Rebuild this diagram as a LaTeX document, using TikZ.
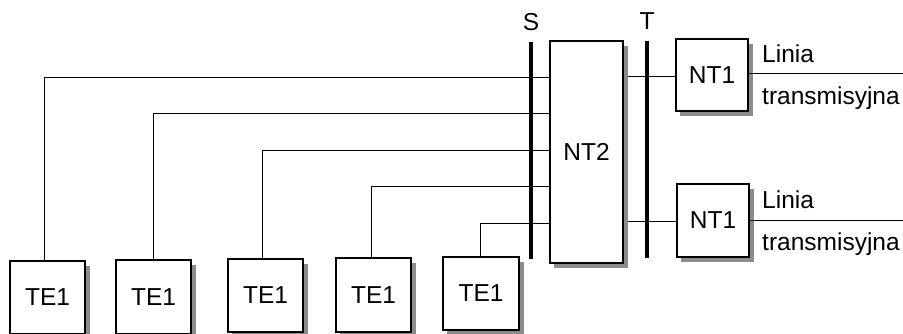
\documentclass[tikz,border=0pt]{standalone}
\usepackage{fontspec}
\setmainfont{Liberation Sans}
\begin{document}
\begin{tikzpicture}[x=1pt,y=-1pt,
  box/.style={draw,line width=1.2pt,fill=white,inner sep=0pt,
    font=\fontsize{24.5}{28}\selectfont},
  shade/.style={fill=black!45,draw=none},
  wire/.style={line width=1pt},
  bar/.style={line width=3.6pt},
  lbl/.style={font=\fontsize{24.5}{28}\selectfont,inner sep=0pt}]
\useasboundingbox (0,0) rectangle (903,334);
% shadows (drawn first)
\fill[shade] (14,266) rectangle (90,340);
\fill[shade] (120,265) rectangle (196,340);
\fill[shade] (232,264) rectangle (308,337);
\fill[shade] (340,263) rectangle (416,337);
\fill[shade] (447,262) rectangle (524,335);
\fill[shade] (554,46) rectangle (628,268);
\fill[shade] (680,44) rectangle (753,116);
\fill[shade] (681,189) rectangle (754,262);
% TE1 boxes
\node[box,minimum width=75pt,minimum height=73pt] (te1) at (47.5,297.5) {TE1};
\node[box,minimum width=75pt,minimum height=74pt] (te2) at (153.5,297) {TE1};
\node[box,minimum width=75pt,minimum height=73pt] (te3) at (265.5,295.5) {TE1};
\node[box,minimum width=75pt,minimum height=74pt] (te4) at (373.5,295) {TE1};
\node[box,minimum width=76pt,minimum height=73pt] (te5) at (481,293.5) {TE1};
% NT2
\node[box,minimum width=73pt,minimum height=222pt] (nt2) at (586.5,152) {NT2};
% NT1
\node[box,minimum width=72pt,minimum height=72pt] (nta) at (712,75) {NT1};
\node[box,minimum width=72pt,minimum height=73pt] (ntb) at (713,220.5) {NT1};
% connection points on NT2
\coordinate (p1) at (550,78);
\coordinate (p2) at (550,114);
\coordinate (p3) at (550,151);
\coordinate (p4) at (550,187);
\coordinate (p5) at (550,224);
\draw[wire] ([xshift=-3.5pt]te1.north) |- (p1);
\draw[wire] ([xshift=-0.5pt]te2.north) |- (p2);
\draw[wire] ([xshift=-3.5pt]te3.north) |- (p3);
\draw[wire] ([xshift=-2.5pt]te4.north) |- (p4);
\draw[wire] ([xshift=-1pt]te5.north) |- (p5);
% bars S and T
\coordinate (s1) at (531,42); \coordinate (s2) at (531,259);
\coordinate (t1) at (647,41); \coordinate (t2) at (647,258);
\draw[bar] (s1) -- (s2);
\draw[bar] (t1) -- (t2);
\node[lbl,anchor=south] (slab) at (531,31) {S};
\node[lbl,anchor=south] (tlab) at (647,30) {T};
% NT2 to NT1
\draw[wire] (628,77) -- (nta.west |- 0,77);
\draw[wire] (628,222) -- (ntb.west |- 0,222);
% output lines
\coordinate (oa) at (903,74);
\coordinate (ob) at (903,221);
\draw[wire] (nta.east |- oa) -- (oa);
\draw[wire] (ntb.east |- ob) -- (ob);
\node[lbl,anchor=base west] (la1) at (762,63) {Linia};
\node[lbl,anchor=base west] (la2) at (762,105) {transmisyjna};
\node[lbl,anchor=base west] (lb1) at (762,209) {Linia};
\node[lbl,anchor=base west] (lb2) at (762,251) {transmisyjna};
\end{tikzpicture}
\end{document}
